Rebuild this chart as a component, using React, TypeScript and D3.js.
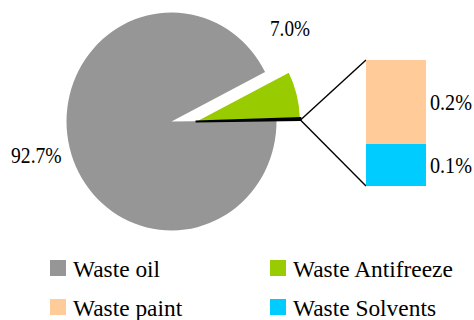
import React from "react";
import * as d3 from "d3";

const categories = ["Waste oil", "Waste Antifreeze", "Waste paint", "Waste Solvents"];
const values = [92.7, 7.0, 0.2, 0.1];
const colors = ["#969696", "#99CC00", "#FFCC99", "#00CCFF"];
const pieLabels = ["92.7%", "7.0%"];
const barLabels = ["0.2%", "0.1%"];

const W = 474;
const H = 320;

export default function App() {
  const otherTotal = values[2] + values[3];
  const pieData = [
    { key: "anti", v: values[1], color: colors[1] },
    { key: "other", v: otherTotal, color: "#000" },
    { key: "oil", v: values[0], color: colors[0] },
  ];
  const start = (63 * Math.PI) / 180;
  const pie = d3
    .pie<any>()
    .value((d) => d.v)
    .sort(null)
    .startAngle(start)
    .endAngle(start + 2 * Math.PI);
  const arcs = pie(pieData);
  const R = 105;
  const sy = 1.038;
  const arc = d3.arc<any>().innerRadius(0).outerRadius(R);
  const cx = 171.5;
  const cy = 121.5;
  const exX = 24;

  const otherArc = arcs[1];
  const mid = (otherArc.startAngle + otherArc.endAngle) / 2;
  const ox = cx + exX + R * Math.sin(mid);
  const oy = cy - R * sy * Math.cos(mid);

  const barX = 366;
  const barW = 60;
  const y = d3.scaleLinear().domain([0, otherTotal]).range([186, 60]);
  const segs = [
    { v0: 0, v1: values[3], color: colors[3], label: barLabels[1] },
    { v0: values[3], v1: values[3] + values[2], color: colors[2], label: barLabels[0] },
  ];

  const tf: React.CSSProperties = { fontFamily: '"Liberation Serif"' };

  const legend = [
    { i: 0, x: 50, y: 260 },
    { i: 1, x: 270, y: 260 },
    { i: 2, x: 50, y: 299 },
    { i: 3, x: 270, y: 299 },
  ];

  return (
    <svg
      width={W}
      height={H}
      style={{ position: "absolute", left: 0, top: 0, background: "#fff" }}
    >
      <g transform={`translate(${cx},${cy}) scale(1,${sy})`}>
        <path d={arc(arcs[2]) as string} fill={colors[0]} />
      </g>
      <g transform={`translate(${cx + exX},${cy}) scale(1,${sy})`}>
        <path d={arc(arcs[0]) as string} fill={colors[1]} stroke="#fff" strokeWidth={1.2} />
        <path d={arc(arcs[1]) as string} fill="#000" stroke="#000" strokeWidth={1.8} />
      </g>
      <line x1={ox} y1={oy + 1} x2={barX} y2={y(otherTotal)} stroke="#000" strokeWidth={1.4} />
      <line x1={ox} y1={oy + 1} x2={barX} y2={y(0)} stroke="#000" strokeWidth={1.4} />
      {segs.map((s, k) => (
        <rect
          key={k}
          x={barX}
          y={y(s.v1)}
          width={barW}
          height={y(s.v0) - y(s.v1)}
          fill={s.color}
        />
      ))}
      {segs.map((s, k) => (
        <text
          key={"l" + k}
          x={430}
          y={(y(s.v0) + y(s.v1)) / 2 + 8}
          fontSize={24}
          textLength={42}
          lengthAdjust="spacingAndGlyphs"
          fill="#000"
          style={tf}
        >
          {s.label}
        </text>
      ))}
      <text x={11} y={163} fontSize={24} textLength={50.7} lengthAdjust="spacingAndGlyphs" style={tf}>
        {pieLabels[0]}
      </text>
      <text x={270} y={36} fontSize={24} textLength={40} lengthAdjust="spacingAndGlyphs" style={tf}>
        {pieLabels[1]}
      </text>
      {legend.map((l) => (
        <g key={l.i}>
          <rect x={l.x} y={l.y} width={16} height={16} fill={colors[l.i]} />
          <text x={l.x + 23} y={l.y + 16.5} fontSize={23.4} fill="#000" style={tf}>
            {categories[l.i]}
          </text>
        </g>
      ))}
    </svg>
  );
}
